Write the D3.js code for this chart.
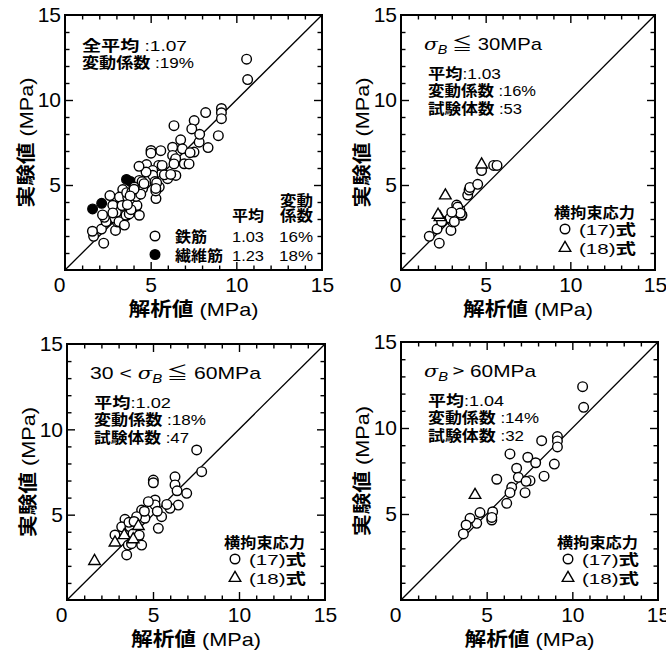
<!DOCTYPE html>
<html>
<head>
<meta charset="utf-8">
<script src="https://cdn.jsdelivr.net/npm/d3@7"></script>
<style>
  body { margin: 0; background: #fff; }
  svg { display: block; }
  text { fill: #000; }
</style>
</head>
<body>
<svg id="chart" width="666" height="652"></svg>
<script>
// ---- data (analysis value, test value) in MPa ----
// sigma_B <= 30MPa
var circ30 = [[1.67,1.98],[2.26,1.58],[2.13,2.41],[2.46,2.87],[2.95,2.33],[3.05,2.83],[3.2,3.32],[3.4,3.46],
  [3.6,3.22],[2.9,3.05],[3.15,2.84],[2.4,2.84],[3.29,3.82],[3.48,3.53],[3.58,3.24],[3.94,4.41],[4.02,4.7],
  [4.07,4.86],[4.53,5.04],[4.76,5.85],[5.47,6.15],[5.67,6.15],[3.35,3.7],[3.5,3.35],[3.0,3.4]];
var tri30 = [[2.62,4.38],[2.3,3.1],[2.19,3.24],[4.76,6.2]];
// 30 < sigma_B <= 60MPa
var circ60 = [[7.54,8.79],[7.83,7.52],[6.28,7.22],[6.28,6.74],[6.4,6.4],[6.96,6.25],[6.47,5.56],[5.99,5.37],
  [5.02,7.03],[5.02,6.87],[5.12,5.86],[5.12,5.57],[4.73,5.76],[5.5,4.88],[5.31,4.2],[5.25,5.2],[4.53,4.79],
  [4.34,5.27],[4.05,4.88],[3.37,4.73],[2.79,3.81],[3.18,4.29],[3.66,4.29],[3.84,3.88],[4.15,3.71],[4.34,3.22],
  [3.56,3.22],[3.47,2.64],[3.75,3.3],[4.2,3.8],[3.6,4.55],[3.9,4.6],[5.8,5.6],[4.5,5.2]];
var tri60 = [[1.6,2.28],[2.79,3.36],[3.33,3.79],[3.85,3.55],[4.15,4.33]];
// sigma_B > 60MPa
var circHi = [[10.6,12.4],[10.66,11.2],[9.13,9.5],[9.13,9.25],[9.13,8.9],[8.95,7.9],[8.21,9.26],[6.36,8.49],
  [7.4,8.3],[7.86,7.98],[6.75,7.66],[6.85,7.13],[7.53,6.94],[8.35,7.2],[5.59,7.02],[6.46,6.55],[6.36,6.24],
  [7.24,6.24],[6.17,5.62],[5.35,5.13],[5.3,4.65],[4.61,5.08],[4.42,4.46],[4.03,4.75],[3.8,4.36],[3.64,3.84],
  [5.3,4.8],[7.3,6.9]];
var triHi = [[4.32,6.1]];
// fibre-reinforced specimens (filled circles, first panel)
var fibre = [[1.61,3.59],[2.14,3.92],[3.59,5.33],[3.83,5.2]];

var minorTicks = d3.range(0, 16);
var majorTicks = [0, 5, 10, 15];
var yLabelTicks = [5, 10, 15];

var titles = [null, ["", "≦ 30MPa"], ["30 < ", "≦ 60MPa"], ["", "> 60MPa"]];
var titleW = [0, 118, 171, 112];
var stats = [
  ["全平均 :1.07", "変動係数 :19%"],
  ["平均:1.03", "変動係数 :16%", "試験体数 :53"],
  ["平均:1.02", "変動係数 :18%", "試験体数 :47"],
  ["平均:1.04", "変動係数 :14%", "試験体数 :32"]
];
var statsW = [[105, 112], [73, 108, 94], [77, 112, 95], [76, 111, 96]];
var legendHead = "横拘束応力";
var legendRows = ["(17)式", "(18)式"];

// panel frames
var panels = [
  {l: 65, r: 322, t: 15, b: 270},
  {l: 401, r: 655, t: 15, b: 270},
  {l: 67, r: 325, t: 344, b: 600},
  {l: 401, r: 658, t: 342, b: 600}
];

var svg = d3.select("#chart");
var LAT = "'Liberation Sans', Arial, sans-serif";
var CJK = "'Noto Sans CJK JP', sans-serif";

// writes a mixed string, CJK runs in bold; w = stretched width
function mixText(sel, str, w) {
  var runs = str.match(/[\u3000-\u9fff\uff00-\uffef]+|[^\u3000-\u9fff\uff00-\uffef]+/g) || [];
  runs.forEach(function (s) {
    var cj = /[\u3000-\u9fff]/.test(s);
    sel.append("tspan")
       .attr("font-family", cj ? CJK : LAT)
       .attr("font-weight", cj ? "bold" : "normal")
       .text(s);
  });
  if (w) sel.attr("textLength", w).attr("lengthAdjust", "spacingAndGlyphs");
  return sel;
}

var tri = d3.symbol().type(d3.symbolTriangle).size(58);

panels.forEach(function (p, i) {
  var x = d3.scaleLinear().domain([0, 15]).range([p.l, p.r]);
  var y = d3.scaleLinear().domain([0, 15]).range([p.b, p.t]);
  var g = svg.append("g");

  // ticks, inward on all four sides
  function ticks(axis, tr, vals, len) {
    g.append("g").attr("transform", tr)
     .call(axis.tickValues(vals).tickSize(-len).tickFormat(""))
     .call(function (a) { a.select(".domain").remove(); a.selectAll("line").attr("stroke-width", 1.4); });
  }
  var minor = minorTicks.filter(function (v) { return v % 5; });
  ticks(d3.axisBottom(x), "translate(0," + p.b + ")", minor, 4.5);
  ticks(d3.axisBottom(x), "translate(0," + p.b + ")", [5, 10], 8);
  ticks(d3.axisTop(x), "translate(0," + p.t + ")", minor, 4.5);
  ticks(d3.axisTop(x), "translate(0," + p.t + ")", [5, 10], 8);
  ticks(d3.axisLeft(y), "translate(" + p.l + ",0)", minor, 4.5);
  ticks(d3.axisLeft(y), "translate(" + p.l + ",0)", [5, 10], 8);
  ticks(d3.axisRight(y), "translate(" + p.r + ",0)", minor, 4.5);
  ticks(d3.axisRight(y), "translate(" + p.r + ",0)", [5, 10], 8);

  // tick labels
  var xl = g.append("g").attr("transform", "translate(0," + p.b + ")")
    .call(d3.axisBottom(x).tickValues(majorTicks).tickSize(0).tickPadding(7));
  xl.select(".domain").remove();
  xl.selectAll("text").attr("font-family", LAT).attr("font-size", 21)
    .attr("dx", function (d) { return d === 0 ? -6 : 0; });
  var yl = g.append("g").attr("transform", "translate(" + p.l + ",0)")
    .call(d3.axisLeft(y).tickValues(yLabelTicks).tickSize(0).tickPadding(4));
  yl.select(".domain").remove();
  yl.selectAll("text").attr("font-family", LAT).attr("font-size", 21);

  // frame
  g.append("rect").attr("x", p.l).attr("y", p.t)
   .attr("width", p.r - p.l).attr("height", p.b - p.t)
   .attr("fill", "none").attr("stroke", "#000").attr("stroke-width", 2);

  // 1:1 line
  g.append("line").attr("x1", x(0)).attr("y1", y(0)).attr("x2", x(15)).attr("y2", y(15))
   .attr("stroke", "#000").attr("stroke-width", 1.3);

  // axis titles
  mixText(g.append("text").attr("x", (p.l + p.r) / 2).attr("y", p.b + 46)
    .attr("text-anchor", "middle").attr("font-size", 19), "解析値 (MPa)", 130);
  mixText(g.append("text")
    .attr("transform", "translate(" + (p.l - 32) + "," + ((p.t + p.b) / 2) + ") rotate(-90)")
    .attr("text-anchor", "middle").attr("font-size", 19), "実験値 (MPa)", 130);

  // data
  var circ, tris;
  if (i === 0) { circ = circ30.concat(tri30, circ60, tri60, circHi, triHi); tris = []; }
  if (i === 1) { circ = circ30; tris = tri30; }
  if (i === 2) { circ = circ60; tris = tri60; }
  if (i === 3) { circ = circHi; tris = triHi; }
  if (i === 0) {
    g.selectAll(".fib").data(fibre).enter().append("circle")
     .attr("cx", function (d) { return x(d[0]); }).attr("cy", function (d) { return y(d[1]); })
     .attr("r", 4.8).attr("fill", "#000").attr("stroke", "#000").attr("stroke-width", 1.4);
  }
  g.selectAll(".c").data(circ).enter().append("circle")
   .attr("cx", function (d) { return x(d[0]); }).attr("cy", function (d) { return y(d[1]); })
   .attr("r", 4.8).attr("fill", "#fff").attr("stroke", "#000").attr("stroke-width", 1.4);
  g.selectAll(".t").data(tris).enter().append("path")
   .attr("d", tri).attr("transform", function (d) { return "translate(" + x(d[0]) + "," + y(d[1]) + ")"; })
   .attr("fill", "#fff").attr("stroke", "#000").attr("stroke-width", 1.4);

  // stats text
  var sx = i === 0 ? p.l + 17 : p.l + 27;
  var sy = i === 0 ? p.t + 36 : p.t + 64;
  stats[i].forEach(function (s, k) {
    mixText(g.append("text").attr("x", sx).attr("y", sy + k * 17.3).attr("font-size", 15), s, statsW[i][k]);
  });

  if (i > 0) {
    // title with sigma_B
    var tt = g.append("text").attr("x", p.l + 23).attr("y", p.t + 35).attr("font-size", 17)
              .attr("font-family", LAT)
              .attr("textLength", titleW[i]).attr("lengthAdjust", "spacingAndGlyphs");
    if (titles[i][0]) tt.append("tspan").text(titles[i][0]);
    tt.append("tspan").attr("font-style", "italic").attr("font-family", "'DejaVu Serif', serif").text("σ");
    tt.append("tspan").attr("font-style", "italic").attr("font-size", 12).attr("dy", 4).text("B");
    tt.append("tspan").attr("dy", -4).attr("font-family", CJK).text(" " + titles[i][1].charAt(0));
    tt.append("tspan").text(titles[i][1].slice(1));

    // legend
    mixText(g.append("text").attr("x", p.r - 20).attr("y", p.b - 52)
      .attr("text-anchor", "end").attr("font-size", 15), legendHead, 81);
    g.append("circle").attr("cx", p.r - 90).attr("cy", p.b - 41).attr("r", 4.8)
     .attr("fill", "#fff").attr("stroke", "#000").attr("stroke-width", 1.4);
    g.append("path").attr("d", tri).attr("transform", "translate(" + (p.r - 90) + "," + (p.b - 22) + ")")
     .attr("fill", "#fff").attr("stroke", "#000").attr("stroke-width", 1.4);
    legendRows.forEach(function (s, k) {
      mixText(g.append("text").attr("x", p.r - 76).attr("y", p.b - 35 + k * 18.5).attr("font-size", 15), s, 57);
    });
  } else {
    // table legend of first panel
    var fs = 15;
    mixText(g.append("text").attr("x", p.r - 9).attr("y", p.b - 64).attr("text-anchor", "end").attr("font-size", fs), "変動", 33);
    mixText(g.append("text").attr("x", p.r - 58).attr("y", p.b - 49).attr("text-anchor", "end").attr("font-size", fs), "平均", 32);
    mixText(g.append("text").attr("x", p.r - 9).attr("y", p.b - 49).attr("text-anchor", "end").attr("font-size", fs), "係数", 33);
    var rows = [["鉄筋", "1.03", "16%", "#fff", 32], ["繊維筋", "1.23", "18%", "#000", 48]];
    rows.forEach(function (r, k) {
      var by = p.b - 28 + k * 18.5;
      g.append("circle").attr("cx", p.l + 90).attr("cy", by - 6).attr("r", 4.8)
       .attr("fill", r[3]).attr("stroke", "#000").attr("stroke-width", 1.4);
      mixText(g.append("text").attr("x", p.l + 110).attr("y", by).attr("font-size", fs), r[0], r[4]);
      mixText(g.append("text").attr("x", p.r - 58).attr("y", by).attr("text-anchor", "end").attr("font-size", fs), r[1], 32);
      mixText(g.append("text").attr("x", p.r - 9).attr("y", by).attr("text-anchor", "end").attr("font-size", fs), r[2], 34);
    });
  }
});
</script>
</body>
</html>
